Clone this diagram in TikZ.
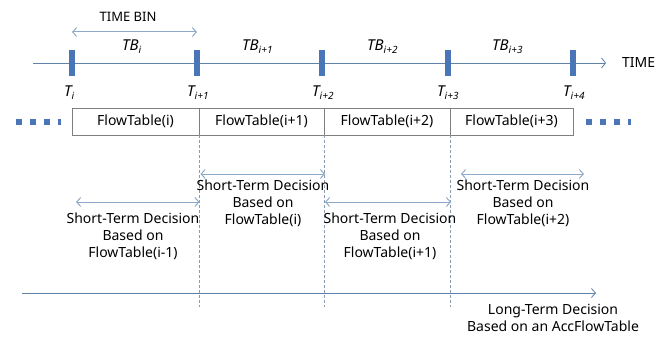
\documentclass[tikz,border=0pt]{standalone}
\usepackage{fontspec}
\setmainfont{Noto Sans}
\usetikzlibrary{arrows.meta}
\definecolor{tl}{HTML}{5E82A8}
\definecolor{arr}{HTML}{8FAAC8}
\definecolor{tick}{HTML}{4A76B8}
\definecolor{boxc}{HTML}{7F7F7F}
\definecolor{dash}{HTML}{8A9BB0}
\newcommand{\lsub}[1]{\raisebox{-3pt}{\fontsize{10}{12}\selectfont #1}}
\tikzset{
  tickbox/.style={fill=tick,draw=none,minimum width=6pt,minimum height=26pt,inner sep=0pt},
  tlab/.style={font=\fontsize{15}{17}\selectfont\itshape,inner sep=0pt,anchor=base west},
  ftbox/.style={draw=boxc,line width=0.6pt,minimum height=27pt,inner sep=0pt,font=\fontsize{14}{16}\selectfont},
  dotsq/.style={fill=tick,draw=none,minimum width=6pt,minimum height=6pt,inner sep=0pt},
  darrow/.style={draw=arr,line width=1pt,{Straight Barb[length=4pt,width=9pt]}-{Straight Barb[length=4pt,width=9pt]}},
  decis/.style={align=center,font=\fontsize{14}{17}\selectfont,inner sep=0pt},
  vdash/.style={draw=dash,dashed,dash pattern=on 3pt off 2pt,line width=0.5pt}
}
\begin{document}
\begin{tikzpicture}[x=1pt,y=-1pt]
\useasboundingbox (0,0) rectangle (666,337);
% timeline
\coordinate (tlS) at (33,63);
\coordinate (tlE) at (606,63);
\draw[tl,line width=0.8pt,-{Straight Barb[length=4pt,width=10pt]}] (tlS) -- (tlE);
\node[font=\fontsize{14}{16}\selectfont,anchor=west,inner sep=0pt] (time) at (622,63) {TIME};
% ticks
\foreach \n/\x in {0/72,1/197,2/322,3/448,4/573}{
  \node[tickbox] (tk\n) at (\x,63) {};
}
\node[tlab] (T0) at (64,96) {T\lsub{i}};
\node[tlab] (T1) at (187,96) {T\lsub{i+1}};
\node[tlab] (T2) at (312,96) {T\lsub{i+2}};
\node[tlab] (T3) at (437,96) {T\lsub{i+3}};
\node[tlab] (T4) at (563,96) {T\lsub{i+4}};
\node[tlab] (TB0) at (122,51) {TB\lsub{i}};
\node[tlab] (TB1) at (242,51) {TB\lsub{i+1}};
\node[tlab] (TB2) at (367,51) {TB\lsub{i+2}};
\node[tlab] (TB3) at (492,51) {TB\lsub{i+3}};
% time bin
\coordinate (binL) at (72,32);
\coordinate (binR) at (197,32);
\draw[darrow] (binL) -- (binR);
\node[font=\fontsize{13}{15}\selectfont,inner sep=0pt] (tbin) at (128,17) {TIME BIN};
% flow tables
\node[ftbox,minimum width=127pt] (F0) at (135.5,121.5) {FlowTable(i)};
\node[ftbox,minimum width=125pt] (F1) at (261.5,121.5) {FlowTable(i+1)};
\node[ftbox,minimum width=126pt] (F2) at (387,121.5) {FlowTable(i+2)};
\node[ftbox,minimum width=123pt] (F3) at (511.5,121.5) {FlowTable(i+3)};
% dots
\foreach \n/\x in {0/19,1/32.5,2/46.5}{\node[dotsq] (dl\n) at (\x,121.5) {};}
\node[dotsq,minimum width=3.5pt] (dl3) at (59.5,121.5) {};
\foreach \n/\x in {0/589,1/602.5,2/616.5}{\node[dotsq] (dr\n) at (\x,121.5) {};}
\node[dotsq,minimum width=3.5pt] (dr3) at (629.5,121.5) {};
% dashed separators
\foreach \n/\x in {1/199.5,2/324.5,3/450.5}{
  \coordinate (dT\n) at (\x,135);
  \coordinate (dB\n) at (\x,307);
  \draw[vdash] (dT\n) -- (dB\n);
}
% short-term arrows
\coordinate (a0L) at (76,202); \coordinate (a0R) at (199.5,202);
\coordinate (a1L) at (200.5,174); \coordinate (a1R) at (325,174);
\coordinate (a2L) at (325,202); \coordinate (a2R) at (451,202);
\coordinate (a3L) at (461,174); \coordinate (a3R) at (584,174);
\draw[darrow] (a0L) -- (a0R);
\draw[darrow] (a1L) -- (a1R);
\draw[darrow] (a2L) -- (a2R);
\draw[darrow] (a3L) -- (a3R);
\node[decis,anchor=north] (s0) at (133,213) {Short-Term Decision\\Based on\\FlowTable(i-1)};
\node[decis,anchor=north] (s1) at (263,180) {Short-Term Decision\\Based on\\FlowTable(i)};
\node[decis,anchor=north] (s2) at (390,213) {Short-Term Decision\\Based on\\FlowTable(i+1)};
\node[decis,anchor=north] (s3) at (523,180) {Short-Term Decision\\Based on\\FlowTable(i+2)};
% long-term
\coordinate (ltL) at (22,293); \coordinate (ltR) at (596,293);
\draw[draw=tl,line width=0.8pt,-{Straight Barb[length=4pt,width=9pt]}] (ltL) -- (ltR);
\node[decis,anchor=north] (lt) at (553,304) {Long-Term Decision\\Based on an AccFlowTable};
\end{tikzpicture}
\end{document}
